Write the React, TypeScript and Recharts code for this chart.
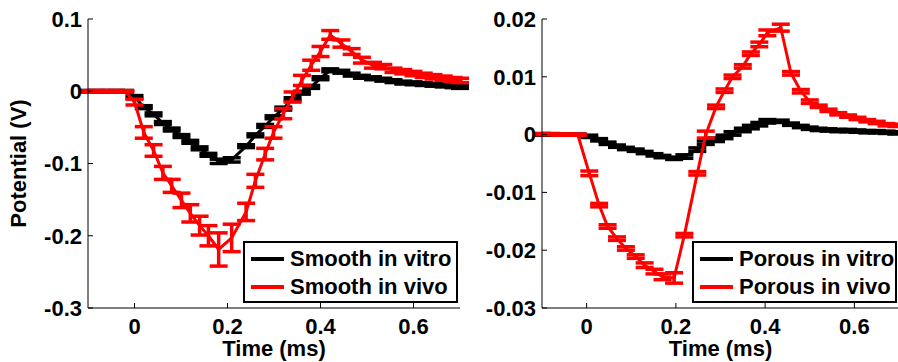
import React from "react";
import { LineChart, Line, XAxis, YAxis, ErrorBar } from "recharts";

// time axis shared by both panels (ms)
const xDomain = [-0.1, 0.7];
const xTicks = [0, 0.2, 0.4, 0.6];

// ---- smooth electrode ----
const smoothTimes = [
  -0.1, -0.08, -0.06, -0.04, -0.02,
  0, 0.02, 0.041, 0.061, 0.08, 0.101, 0.12, 0.14, 0.159, 0.181,
  0.209, 0.24, 0.26, 0.281, 0.299, 0.32, 0.34, 0.36, 0.38, 0.4,
  0.421, 0.445, 0.467, 0.489, 0.513, 0.535, 0.557, 0.578, 0.6, 0.622,
  0.643, 0.665, 0.686, 0.7,
];
const smoothVitro = [
  0, 0, 0, 0, 0,
  -0.008, -0.022, -0.032, -0.044, -0.053, -0.062, -0.07, -0.079, -0.088, -0.097,
  -0.095, -0.076, -0.061, -0.048, -0.036, -0.024, -0.011, -0.002, 0.006, 0.018,
  0.029, 0.027, 0.023, 0.02, 0.018, 0.016, 0.014, 0.012, 0.011, 0.01,
  0.009, 0.008, 0.007, 0.006,
];
const smoothVitroErr = [
  0.001, 0.001, 0.001, 0.001, 0.001,
  0.002, 0.002, 0.002, 0.002, 0.002, 0.002, 0.002, 0.002, 0.002, 0.003,
  0.003, 0.002, 0.002, 0.002, 0.002, 0.002, 0.002, 0.002, 0.002, 0.002,
  0.002, 0.002, 0.002, 0.002, 0.002, 0.002, 0.002, 0.002, 0.002, 0.002,
  0.002, 0.002, 0.002, 0.002,
];
const smoothVivo = [
  0, 0, 0, 0, 0,
  -0.015, -0.057, -0.082, -0.113, -0.131, -0.151, -0.169, -0.186, -0.2, -0.219,
  -0.203, -0.167, -0.124, -0.087, -0.057, -0.031, -0.008, 0.015, 0.036, 0.055,
  0.078, 0.066, 0.055, 0.043, 0.036, 0.034, 0.029, 0.027, 0.0245, 0.022,
  0.02, 0.018, 0.016, 0.015,
];
const smoothVivoErr = [
  0.001, 0.001, 0.001, 0.001, 0.001,
  0.004, 0.008, 0.008, 0.009, 0.009, 0.01, 0.012, 0.013, 0.014, 0.023,
  0.019, 0.012, 0.009, 0.008, 0.008, 0.007, 0.007, 0.007, 0.007, 0.007,
  0.006, 0.005, 0.004, 0.004, 0.004, 0.003, 0.003, 0.003, 0.003, 0.003,
  0.003, 0.003, 0.003, 0.003,
];
const smoothTicks = [-0.3, -0.2, -0.1, 0, 0.1];
const smoothNames = ["Smooth in vitro", "Smooth in vivo"];

// ---- porous electrode ----
const porousTimes = [
  -0.1, -0.08, -0.06, -0.04, -0.02,
  0.006, 0.028, 0.047, 0.068, 0.088, 0.11, 0.13, 0.152, 0.17, 0.196,
  0.219, 0.248, 0.267, 0.29, 0.309, 0.327, 0.35, 0.368, 0.387, 0.405,
  0.435, 0.458, 0.48, 0.5, 0.52, 0.542, 0.564, 0.586, 0.607, 0.629,
  0.65, 0.672, 0.694,
];
const porousVitro = [
  0, 0, 0, 0, 0,
  -0.0003, -0.0009, -0.0015, -0.002, -0.0024, -0.0027, -0.0031, -0.0035, -0.0038, -0.0041,
  -0.0038, -0.0026, -0.0014, -0.0009, -0.0004, 0.0002, 0.0008, 0.0013, 0.0018, 0.0023,
  0.0023, 0.0018, 0.0014, 0.0011, 0.0009, 0.0008, 0.0007, 0.0007, 0.0006, 0.0005,
  0.0005, 0.0004, 0.0003,
];
const porousVitroErr = [
  0.0001, 0.0001, 0.0001, 0.0001, 0.0001,
  0.0002, 0.0002, 0.0002, 0.0002, 0.0002, 0.0002, 0.0002, 0.0002, 0.0002, 0.0002,
  0.0003, 0.0003, 0.0003, 0.0003, 0.0003, 0.0003, 0.0003, 0.0003, 0.0003, 0.0003,
  0.0002, 0.0002, 0.0002, 0.0002, 0.0002, 0.0002, 0.0002, 0.0002, 0.0002, 0.0002,
  0.0002, 0.0002, 0.0002,
];
const porousVivo = [
  0.0001, 0.0001, 0, 0, 0,
  -0.0067, -0.0122, -0.0159, -0.018, -0.0197, -0.0211, -0.0226, -0.0237, -0.0246, -0.0248,
  -0.0174, -0.0067, 0, 0.0048, 0.0076, 0.01, 0.0118, 0.014, 0.0156, 0.0176,
  0.0185, 0.0106, 0.0075, 0.0057, 0.0049, 0.0042, 0.0036, 0.0032, 0.0028, 0.0024,
  0.0021, 0.0017, 0.0016,
];
const porousVivoErr = [
  0.0001, 0.0001, 0.0001, 0.0001, 0.0001,
  0.0004, 0.0003, 0.0003, 0.0003, 0.0003, 0.0003, 0.0004, 0.0004, 0.0005, 0.0009,
  0.0003, 0.0003, 0.0006, 0.0003, 0.0003, 0.0003, 0.0003, 0.0003, 0.0004, 0.0005,
  0.0006, 0.0003, 0.0003, 0.0003, 0.0002, 0.0002, 0.0002, 0.0002, 0.0002, 0.0002,
  0.0002, 0.0002, 0.0002,
];
const porousTicks = [-0.03, -0.02, -0.01, 0, 0.01, 0.02];
const porousNames = ["Porous in vitro", "Porous in vivo"];

const seriesColors = ["#000000", "#ff0000"];

const font = "'Liberation Sans', Arial, Helvetica, sans-serif";
const tickFont = { fontSize: 22, fontWeight: "bold", fill: "#000", fontFamily: font };
const axisStroke = { stroke: "#000", strokeWidth: 1 };

function buildRows(times, vitro, vitroErr, vivo, vivoErr) {
  return times.map((t, i) => ({
    t,
    vitro: vitro[i],
    vitroErr: vitroErr[i],
    vivo: vivo[i],
    vivoErr: vivoErr[i],
  }));
}

const smoothRows = buildRows(smoothTimes, smoothVitro, smoothVitroErr, smoothVivo, smoothVivoErr);
const porousRows = buildRows(porousTimes, porousVitro, porousVitroErr, porousVivo, porousVivoErr);

function LegendBox({ names, left, width }) {
  return (
    <div
      style={{
        position: "absolute",
        left,
        top: 241,
        width,
        height: 62,
        boxSizing: "border-box",
        border: "2px solid #000",
        background: "#fff",
        paddingTop: 2,
        fontFamily: font,
      }}
    >
      {names.map((name, i) => (
        <div key={name} style={{ display: "flex", alignItems: "center", height: 28 }}>
          <span
            style={{
              display: "inline-block",
              marginLeft: 6,
              width: 33,
              height: 4,
              background: seriesColors[i],
            }}
          />
          <span style={{ marginLeft: 6, fontSize: 22, fontWeight: "bold", lineHeight: 1, color: "#000" }}>
            {name}
          </span>
        </div>
      ))}
    </div>
  );
}

function Panel({ left, width, plotLeft, rightGap, rows, yDomain, yTicks, names, yLabel, legendLeft, legendWidth }) {
  return (
    <div style={{ position: "absolute", left, top: 0, width, height: 362 }}>
      <LineChart
        width={width}
        height={362}
        data={rows}
        margin={{ top: 19, right: rightGap, bottom: 0, left: 0 }}
      >
        <XAxis
          dataKey="t"
          type="number"
          domain={xDomain}
          ticks={xTicks}
          interval={0}
          allowDataOverflow
          height={54}
          tickSize={-5}
          tickMargin={15}
          tick={tickFont}
          tickFormatter={(v) => String(v)}
          axisLine={axisStroke}
          tickLine={axisStroke}
          label={{
            value: "Time (ms)",
            position: "insideBottom",
            offset: 6,
            fontSize: 22,
            fontWeight: "bold",
            fill: "#000",
            fontFamily: font,
          }}
        />
        <XAxis
          xAxisId="top"
          orientation="top"
          type="number"
          domain={xDomain}
          ticks={xTicks}
          interval={0}
          allowDataOverflow
          height={0}
          tickSize={-5}
          tick={false}
          axisLine={axisStroke}
          tickLine={axisStroke}
        />
        <YAxis
          type="number"
          domain={yDomain}
          ticks={yTicks}
          interval={0}
          allowDataOverflow
          width={plotLeft}
          tickSize={-5}
          tickMargin={11}
          tick={tickFont}
          tickFormatter={(v) => String(v)}
          axisLine={axisStroke}
          tickLine={axisStroke}
          label={
            yLabel
              ? {
                  value: yLabel,
                  angle: -90,
                  position: "insideLeft",
                  offset: 18,
                  fontSize: 22,
                  fontWeight: "bold",
                  fill: "#000",
                  fontFamily: font,
                  style: { textAnchor: "middle" },
                }
              : undefined
          }
        />
        <YAxis
          yAxisId="right"
          orientation="right"
          type="number"
          domain={yDomain}
          ticks={yTicks}
          interval={0}
          allowDataOverflow
          width={0}
          tickSize={-5}
          tick={false}
          axisLine={axisStroke}
          tickLine={axisStroke}
        />
        <Line
          dataKey="vitro"
          name={names[0]}
          stroke={seriesColors[0]}
          strokeWidth={3}
          dot={false}
          isAnimationActive={false}
        >
          <ErrorBar dataKey="vitroErr" direction="y" width={9} strokeWidth={3.5} stroke={seriesColors[0]} isAnimationActive={false} />
        </Line>
        <Line
          dataKey="vivo"
          name={names[1]}
          stroke={seriesColors[1]}
          strokeWidth={3}
          dot={false}
          isAnimationActive={false}
        >
          <ErrorBar dataKey="vivoErr" direction="y" width={9} strokeWidth={3.5} stroke={seriesColors[1]} isAnimationActive={false} />
        </Line>
      </LineChart>
      <LegendBox names={names} left={legendLeft} width={legendWidth} />
    </div>
  );
}

export default function App() {
  return (
    <div
      style={{
        position: "absolute",
        left: 0,
        top: 0,
        width: 898,
        height: 362,
        overflow: "hidden",
        background: "#fff",
      }}
    >
      <Panel
        left={0}
        width={470}
        plotLeft={88}
        rightGap={10}
        rows={smoothRows}
        yDomain={[-0.3, 0.1]}
        yTicks={smoothTicks}
        names={smoothNames}
        yLabel="Potential (V)"
        legendLeft={243}
        legendWidth={215}
      />
      <Panel
        left={455}
        width={445}
        plotLeft={87}
        rightGap={1}
        rows={porousRows}
        yDomain={[-0.03, 0.02]}
        yTicks={porousTicks}
        names={porousNames}
        yLabel={null}
        legendLeft={237}
        legendWidth={205}
      />
    </div>
  );
}
